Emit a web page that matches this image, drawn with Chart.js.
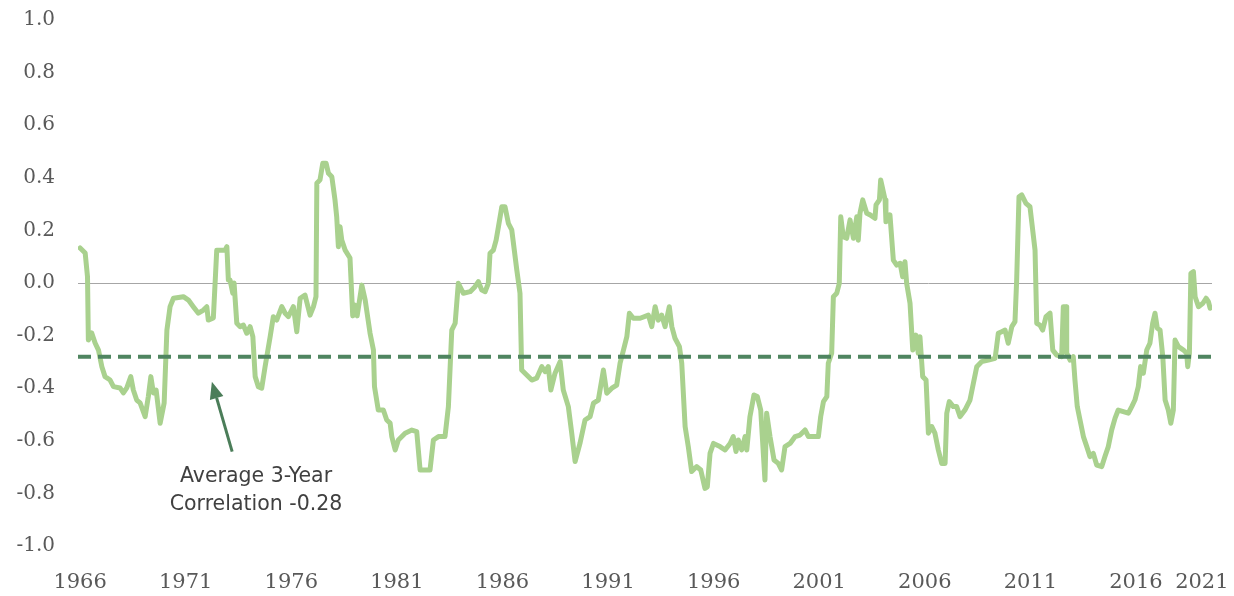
<!DOCTYPE html>
<html lang="en">
<head>
    <meta charset="UTF-8">
    <title>Average 3-Year Correlation</title>
    <script src="https://cdn.jsdelivr.net/npm/chart.js"></script>
    <style>
        body {
            margin: 0;
            background-color: #ffffff;
        }
        .chart-container {
            width: 1234px;
            height: 596px;
        }
    </style>
</head>
<body>
    <div class="chart-container">
        <canvas id="corrChart"></canvas>
    </div>

    <script>
        // dates as decimal years
        const dates = [
            1966.00, 1966.24, 1966.35, 1966.39, 1966.55, 1966.71, 1966.87, 1967.03, 1967.18, 1967.42,
            1967.58, 1967.89, 1968.05, 1968.21, 1968.40, 1968.52, 1968.68, 1968.84, 1969.08, 1969.23,
            1969.35, 1969.47, 1969.60, 1969.79, 1969.98, 1970.11, 1970.26, 1970.42, 1970.89, 1971.13,
            1971.36, 1971.60, 1971.84, 1972.00, 1972.07, 1972.31, 1972.47, 1972.87, 1972.95, 1973.02,
            1973.10, 1973.23, 1973.29, 1973.42, 1973.58, 1973.73, 1973.89, 1974.05, 1974.18, 1974.29,
            1974.44, 1974.60, 1974.76, 1975.00, 1975.15, 1975.31, 1975.55, 1975.71, 1975.86, 1976.10,
            1976.26, 1976.42, 1976.65, 1976.89, 1977.05, 1977.17, 1977.21, 1977.36, 1977.49, 1977.65,
            1977.76, 1977.92, 1978.07, 1978.15, 1978.23, 1978.31, 1978.39, 1978.55, 1978.78, 1978.91,
            1979.02, 1979.12, 1979.34, 1979.50, 1979.73, 1979.89, 1979.94, 1980.12, 1980.36, 1980.52,
            1980.68, 1980.76, 1980.92, 1981.07, 1981.39, 1981.71, 1981.94, 1982.10, 1982.57, 1982.73,
            1982.97, 1983.28, 1983.44, 1983.60, 1983.76, 1983.91, 1984.15, 1984.47, 1984.70, 1984.86,
            1985.02, 1985.18, 1985.33, 1985.41, 1985.57, 1985.70, 1985.81, 1985.97, 1986.12, 1986.28,
            1986.44, 1986.68, 1986.83, 1986.91, 1987.15, 1987.39, 1987.62, 1987.86, 1988.02, 1988.17,
            1988.29, 1988.49, 1988.73, 1988.88, 1989.12, 1989.28, 1989.44, 1989.67, 1989.91, 1990.15,
            1990.31, 1990.54, 1990.78, 1990.94, 1991.18, 1991.41, 1991.57, 1991.73, 1991.89, 1992.01,
            1992.20, 1992.52, 1992.91, 1993.07, 1993.23, 1993.38, 1993.54, 1993.70, 1993.90, 1994.02,
            1994.17, 1994.38, 1994.49, 1994.65, 1994.80, 1994.96, 1995.20, 1995.39, 1995.59, 1995.70,
            1995.83, 1995.99, 1996.30, 1996.54, 1996.78, 1996.93, 1997.06, 1997.17, 1997.33, 1997.49,
            1997.57, 1997.72, 1997.91, 1998.07, 1998.23, 1998.43, 1998.51, 1998.67, 1998.86, 1999.06,
            1999.22, 1999.38, 1999.62, 1999.86, 2000.09, 2000.33, 2000.49, 2000.96, 2001.07, 2001.20,
            2001.36, 2001.43, 2001.59, 2001.67, 2001.83, 2001.95, 2002.02, 2002.14, 2002.30, 2002.46,
            2002.62, 2002.78, 2002.85, 2002.93, 2003.06, 2003.25, 2003.41, 2003.64, 2003.69, 2003.85,
            2003.91, 2004.12, 2004.16, 2004.35, 2004.51, 2004.67, 2004.83, 2004.95, 2005.06, 2005.14,
            2005.30, 2005.43, 2005.58, 2005.69, 2005.77, 2005.90, 2006.06, 2006.17, 2006.33, 2006.48,
            2006.64, 2006.80, 2006.96, 2007.04, 2007.16, 2007.35, 2007.51, 2007.67, 2007.90, 2008.14,
            2008.30, 2008.46, 2008.69, 2009.01, 2009.33, 2009.48, 2009.64, 2009.80, 2009.95, 2010.12,
            2010.27, 2010.35, 2010.46, 2010.59, 2010.79, 2010.98, 2011.22, 2011.30, 2011.45, 2011.58,
            2011.74, 2011.93, 2012.06, 2012.25, 2012.48, 2012.56, 2012.69, 2012.72, 2012.88, 2013.03,
            2013.11, 2013.22, 2013.35, 2013.51, 2013.67, 2013.82, 2013.98, 2014.14, 2014.38, 2014.53,
            2014.69, 2014.85, 2015.01, 2015.16, 2015.40, 2015.64, 2015.80, 2015.95, 2016.11, 2016.22,
            2016.35, 2016.51, 2016.66, 2016.79, 2016.90, 2017.01, 2017.14, 2017.27, 2017.38, 2017.53,
            2017.65, 2017.77, 2017.85, 2018.01, 2018.25, 2018.40, 2018.45, 2018.53, 2018.60, 2018.72,
            2018.80, 2018.96, 2019.17, 2019.32, 2019.43, 2019.51
        ];

        // rolling 3-year correlation
        const correlation = [
            0.133, 0.114, 0.024, -0.217, -0.190, -0.228, -0.255, -0.318, -0.356, -0.369,
            -0.394, -0.399, -0.418, -0.399, -0.356, -0.407, -0.445, -0.456, -0.508, -0.432,
            -0.356, -0.418, -0.407, -0.533, -0.456, -0.179, -0.090, -0.058, -0.052, -0.065,
            -0.090, -0.115, -0.103, -0.090, -0.141, -0.133, 0.125, 0.125, 0.138, 0.011,
            0.011, -0.039, 0.000, -0.153, -0.166, -0.160, -0.191, -0.166, -0.204, -0.356,
            -0.394, -0.400, -0.318, -0.204, -0.128, -0.141, -0.090, -0.115, -0.128, -0.090,
            -0.185, -0.058, -0.046, -0.122, -0.090, -0.052, 0.379, 0.392, 0.455, 0.455,
            0.417, 0.404, 0.316, 0.252, 0.138, 0.214, 0.163, 0.125, 0.095, -0.125,
            -0.084, -0.125, -0.008, -0.065, -0.191, -0.255, -0.394, -0.483, -0.483, -0.521,
            -0.533, -0.584, -0.635, -0.597, -0.571, -0.559, -0.565, -0.711, -0.711, -0.597,
            -0.584, -0.584, -0.470, -0.179, -0.153, -0.001, -0.039, -0.033, -0.014, 0.005,
            -0.027, -0.033, -0.001, 0.113, 0.125, 0.163, 0.214, 0.290, 0.290, 0.227,
            0.202, 0.049, -0.039, -0.331, -0.350, -0.369, -0.362, -0.318, -0.337, -0.318,
            -0.407, -0.343, -0.299, -0.407, -0.470, -0.571, -0.679, -0.610, -0.521, -0.508,
            -0.457, -0.445, -0.331, -0.419, -0.400, -0.388, -0.305, -0.255, -0.204, -0.115,
            -0.134, -0.134, -0.122, -0.166, -0.090, -0.141, -0.122, -0.166, -0.090, -0.166,
            -0.210, -0.242, -0.305, -0.546, -0.622, -0.717, -0.698, -0.711, -0.781, -0.775,
            -0.648, -0.610, -0.622, -0.635, -0.610, -0.584, -0.641, -0.597, -0.635, -0.584,
            -0.635, -0.508, -0.426, -0.432, -0.483, -0.749, -0.495, -0.584, -0.673, -0.686,
            -0.711, -0.622, -0.610, -0.584, -0.578, -0.559, -0.584, -0.584, -0.508, -0.451,
            -0.432, -0.305, -0.267, -0.052, -0.039, -0.001, 0.252, 0.176, 0.170, 0.240,
            0.170, 0.252, 0.163, 0.265, 0.316, 0.265, 0.259, 0.246, 0.297, 0.316,
            0.392, 0.316, 0.233, 0.259, 0.087, 0.068, 0.075, 0.024, 0.081, -0.001,
            -0.077, -0.255, -0.198, -0.267, -0.204, -0.356, -0.369, -0.571, -0.546, -0.571,
            -0.635, -0.686, -0.686, -0.495, -0.451, -0.470, -0.470, -0.508, -0.483, -0.445,
            -0.381, -0.318, -0.299, -0.293, -0.286, -0.191, -0.185, -0.179, -0.229, -0.166,
            -0.147, 0.011, 0.328, 0.335, 0.303, 0.290, 0.125, -0.153, -0.160, -0.179,
            -0.128, -0.115, -0.255, -0.274, -0.280, -0.090, -0.090, -0.267, -0.293, -0.280,
            -0.369, -0.470, -0.521, -0.584, -0.622, -0.660, -0.648, -0.692, -0.698, -0.660,
            -0.622, -0.559, -0.514, -0.483, -0.489, -0.495, -0.470, -0.445, -0.394, -0.318,
            -0.343, -0.255, -0.229, -0.153, -0.115, -0.172, -0.179, -0.280, -0.445, -0.483,
            -0.533, -0.483, -0.217, -0.242, -0.255, -0.267, -0.318, -0.267, 0.037, 0.043,
            -0.052, -0.090, -0.077, -0.058, -0.071, -0.096
        ];

        const averageCorrelation = -0.28;

        // x axis tick labels and where they sit on the date axis
        const xTickValues = [1966, 1971, 1976, 1981, 1986, 1991, 1996, 2001, 2006, 2011, 2016, 2019.12];
        const xTickLabels = ['1966', '1971', '1976', '1981', '1986', '1991', '1996', '2001', '2006', '2011', '2016', '2021'];
        const xMin = 1965.9;
        const xMax = 2019.6;

        const noteLines = ['Average 3-Year', 'Correlation -0.28'];
        const noteAt = { x: 1974.33, y: [-0.736, -0.844] };
        const noteArrow = { fromX: 1973.20, fromY: -0.641, toX: 1972.24, toY: -0.375 };

        const corrPoints = dates.map((d, i) => ({ x: d, y: correlation[i] }));

        // arrow + text under the dashed line
        const notePlugin = {
            id: 'note',
            afterDatasetsDraw(chart) {
                const ctx = chart.ctx;
                const xs = chart.scales.x;
                const ys = chart.scales.y;
                const x0 = xs.getPixelForValue(noteArrow.fromX);
                const y0 = ys.getPixelForValue(noteArrow.fromY);
                const x1 = xs.getPixelForValue(noteArrow.toX);
                const y1 = ys.getPixelForValue(noteArrow.toY);
                const ang = Math.atan2(y1 - y0, x1 - x0);
                const headLen = 17;
                const headW = 7;
                const bx = x1 - headLen * Math.cos(ang);
                const by = y1 - headLen * Math.sin(ang);

                ctx.save();
                ctx.strokeStyle = '#4b7d59';
                ctx.fillStyle = '#4b7d59';
                ctx.lineWidth = 3;
                ctx.beginPath();
                ctx.moveTo(x0, y0);
                ctx.lineTo(bx, by);
                ctx.stroke();
                ctx.beginPath();
                ctx.moveTo(x1, y1);
                ctx.lineTo(bx + headW * Math.sin(ang), by - headW * Math.cos(ang));
                ctx.lineTo(bx - headW * Math.sin(ang), by + headW * Math.cos(ang));
                ctx.closePath();
                ctx.fill();

                ctx.font = '20.5px "DejaVu Sans"';
                ctx.fillStyle = '#404040';
                ctx.textAlign = 'center';
                ctx.textBaseline = 'middle';
                const tx = xs.getPixelForValue(noteAt.x);
                noteLines.forEach((line, i) => {
                    ctx.fillText(line, tx, ys.getPixelForValue(noteAt.y[i]));
                });
                ctx.restore();
            }
        };

        const corrCtx = document.getElementById('corrChart').getContext('2d');

        const corrChart = new Chart(corrCtx, {
            type: 'line',
            data: {
                datasets: [{
                    label: 'Average',
                    data: [{ x: xMin, y: averageCorrelation }, { x: xMax, y: averageCorrelation }],
                    borderColor: '#4f8560',
                    borderWidth: 4,
                    borderDash: [13, 7],
                    pointRadius: 0,
                    fill: false,
                    order: 0
                }, {
                    label: '3-Year Correlation',
                    data: corrPoints,
                    borderColor: '#a9d18e',
                    borderWidth: 5,
                    borderJoinStyle: 'round',
                    borderCapStyle: 'round',
                    pointRadius: 0,
                    tension: 0,
                    fill: false,
                    order: 1
                }]
            },
            options: {
                responsive: true,
                maintainAspectRatio: false,
                animation: false,
                layout: {
                    padding: { top: 20, right: 22, bottom: 0, left: 0 }
                },
                plugins: {
                    legend: { display: false },
                    tooltip: { enabled: false }
                },
                scales: {
                    x: {
                        type: 'linear',
                        min: xMin,
                        max: xMax,
                        afterBuildTicks: scale => {
                            scale.ticks = xTickValues.map(v => ({ value: v }));
                        },
                        afterFit: scale => {
                            scale.height = 50;
                            scale.paddingLeft = 0;
                            scale.paddingRight = 0;
                        },
                        ticks: {
                            autoSkip: false,
                            maxRotation: 0,
                            padding: 16,
                            color: '#595959',
                            font: { family: 'DejaVu Serif', size: 21 },
                            callback: (value, index) => xTickLabels[index]
                        },
                        grid: { display: false },
                        border: { display: false }
                    },
                    y: {
                        min: -1,
                        max: 1,
                        afterFit: scale => {
                            scale.width = 78;
                            scale.paddingTop = 0;
                            scale.paddingBottom = 0;
                        },
                        ticks: {
                            stepSize: 0.2,
                            padding: 23,
                            color: '#595959',
                            font: { family: 'DejaVu Serif', size: 20 },
                            callback: v => (Math.abs(v) < 1e-9 ? 0 : v).toFixed(1)
                        },
                        grid: {
                            drawTicks: false,
                            lineWidth: 1,
                            color: c => (c.tick && Math.abs(c.tick.value) < 1e-9) ? '#a6a6a6' : 'rgba(0,0,0,0)'
                        },
                        border: { display: false }
                    }
                }
            },
            plugins: [notePlugin]
        });
    </script>
</body>
</html>
